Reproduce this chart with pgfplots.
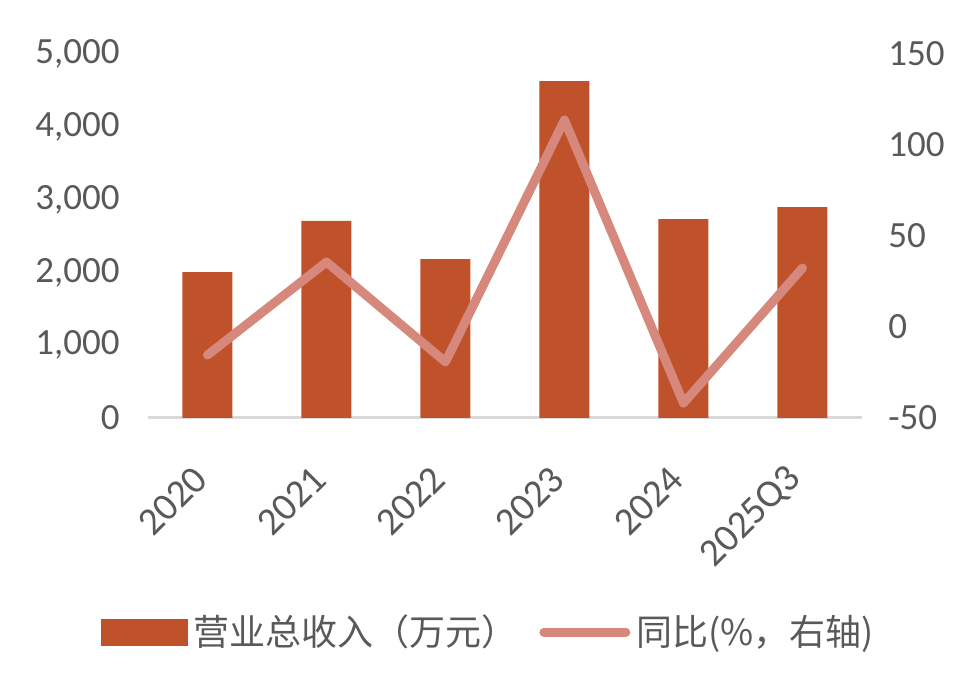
\documentclass[border=0pt]{standalone}
\usepackage{fontspec}
\setmainfont{Carlito}
\newfontfamily\cjk{Noto Sans CJK SC}
\usepackage{pgfplots}
\pgfplotsset{compat=1.18}
\definecolor{barc}{HTML}{C0522B}
\definecolor{linec}{HTML}{D6887C}
\definecolor{txt}{HTML}{595959}
\definecolor{axc}{HTML}{D9D9D9}
\pgfplotsset{
  base/.style={
    at={(74pt,139pt)}, anchor=south west,
    width=357pt, height=182pt, scale only axis,
    xmin=-0.5, xmax=5.5,
    major tick length=0pt,
    tick style={draw=none},
    /pgf/number format/.cd, 1000 sep={,}, assume math mode=true, /pgfplots/.cd,
    ticklabel style={font=\fontsize{18.5}{20}\selectfont, text=txt},
  }
}
\begin{document}
\begin{tikzpicture}
\useasboundingbox (0,0) rectangle (490pt,348pt);
\begin{axis}[base,
  ymin=0, ymax=5000,
  axis x line*=bottom, axis y line*=left,
  x axis line style={draw=axc, line width=1.5pt, -},
  y axis line style={draw=none},
  xtick={0,...,5},
  xticklabels={2020,2021,2022,2023,2024,2025Q3},
  xticklabel style={rotate=45, anchor=east, xshift=-18.5pt, yshift=-17pt,
    font=\fontsize{19.5}{21}\selectfont},
  ytick={0,1000,...,5000},
  yticklabel style={anchor=east, inner sep=0pt, xshift=-14pt},
]
\addplot[ybar, bar width=25pt, fill=barc, draw=none] coordinates {
  (0,2005) (1,2706) (2,2184) (3,4629) (4,2733) (5,2898)};
\end{axis}
\begin{axis}[base,
  ymin=-50, ymax=150,
  hide x axis,
  axis y line*=right,
  y axis line style={draw=none},
  ytick={-50,0,...,150},
  yticklabel style={anchor=west, inner sep=0pt, xshift=13pt},
  legend columns=-1,
  legend style={draw=none, fill=none, inner sep=0pt,
    at={(axis description cs:-0.067,-0.588)}, anchor=west,
    font=\fontsize{18}{20}\selectfont\cjk, text=txt,
    /tikz/every even column/.append style={column sep=8pt},
    nodes={inner xsep=3pt}},
]
\addlegendimage{legend image code/.code={\fill[barc] (0pt,-6.5pt) rectangle (43pt,6.5pt);}}
\addlegendentry{营业总收入（万元）}
\addplot[linec, line width=4.5pt, line cap=round, line join=round,
  legend image code/.code={\draw[linec, line width=4.5pt, line cap=round] (1pt,0pt) -- (42pt,0pt);}]
  coordinates {(0,-15.4) (1,35.7) (2,-19.2) (3,113.7) (4,-41.8) (5,32.4)};
\addlegendentry{同比(\%，右轴)}
\end{axis}
\end{tikzpicture}
\end{document}
